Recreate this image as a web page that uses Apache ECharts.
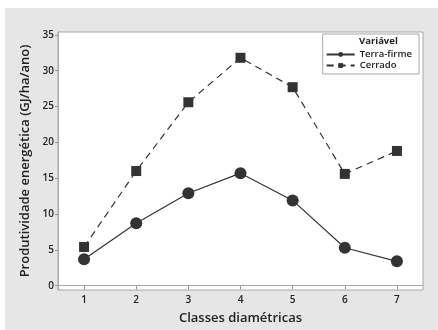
<!DOCTYPE html>
<html>
<head>
<meta charset="utf-8">
<script src="https://cdn.jsdelivr.net/npm/echarts@6/dist/echarts.min.js"></script>
<style>html,body{margin:0;padding:0;background:#fff;}#c{width:438px;height:330px;}</style>
</head>
<body>
<div id="c"></div>
<script>
const categories = ['1','2','3','4','5','6','7'];
const terraFirme = [3.7, 8.7, 12.9, 15.7, 11.9, 5.3, 3.4];
const cerrado = [5.4, 16.0, 25.6, 31.8, 27.7, 15.6, 18.8];
const yTicks = [0, 5, 10, 15, 20, 25, 30, 35];

const font = '"Open Sans", "Noto Sans", sans-serif';
const chart = echarts.init(document.getElementById('c'), null, {renderer: 'canvas'});
chart.setOption({
  animation: false,
  backgroundColor: '#fff',
  graphic: [
    {type: 'rect', shape: {x: 5, y: 8, width: 433, height: 322}, style: {fill: '#e6e6e6'}, z: -10, silent: true},
    {type: 'text', left: 359, top: 36, style: {text: 'Variável', font: 'bold 9.5px ' + font, fill: '#222'}, z: 10}
  ],
  grid: {left: 58, top: 32, right: 15, bottom: 39, show: true, backgroundColor: '#fff', borderColor: '#a8a8a8', borderWidth: 1},
  legend: {
    orient: 'vertical', right: 19, top: 34,
    padding: [15, 7, 3, 3], itemGap: 0, itemWidth: 28, itemHeight: 6,
    backgroundColor: '#fff', borderColor: '#a8a8a8', borderWidth: 1, borderRadius: 0,
    textStyle: {fontFamily: font, fontSize: 9.5, fontWeight: 600, color: '#222', lineHeight: 11},
    data: ['Terra-firme', 'Cerrado']
  },
  xAxis: {
    type: 'category', data: categories, boundaryGap: true,
    name: 'Classes diamétricas', nameLocation: 'middle', nameGap: 22,
    nameTextStyle: {fontFamily: font, fontSize: 13, fontWeight: 600, color: '#222'},
    axisLine: {show: true, lineStyle: {color: '#a8a8a8'}},
    axisTick: {show: true, alignWithLabel: true, length: 4, lineStyle: {color: '#999'}},
    axisLabel: {fontFamily: font, fontSize: 10, fontWeight: 600, color: '#222', margin: 5},
    splitLine: {show: false}
  },
  yAxis: {
    type: 'value', min: -0.6, max: 35.4,
    name: 'Produtividade energética (GJ/ha/ano)', nameLocation: 'middle', nameGap: 19,
    nameTextStyle: {fontFamily: font, fontSize: 13, fontWeight: 600, color: '#222'},
    axisLine: {show: true, lineStyle: {color: '#a8a8a8'}},
    axisTick: {show: true, length: 3, lineStyle: {color: '#999'}, customValues: yTicks},
    axisLabel: {fontFamily: font, fontSize: 10, fontWeight: 600, color: '#222', margin: 4, customValues: yTicks},
    splitLine: {show: false}
  },
  series: [
    {
      name: 'Terra-firme', type: 'line', data: terraFirme,
      symbol: 'circle', symbolSize: 12,
      lineStyle: {color: '#333', width: 1.2, type: 'solid'},
      itemStyle: {color: '#333'}
    },
    {
      name: 'Cerrado', type: 'line', data: cerrado,
      symbol: 'rect', symbolSize: 10,
      lineStyle: {color: '#333', width: 1.2, type: [7, 5]},
      itemStyle: {color: '#333'}
    }
  ]
});
</script>
</body>
</html>
